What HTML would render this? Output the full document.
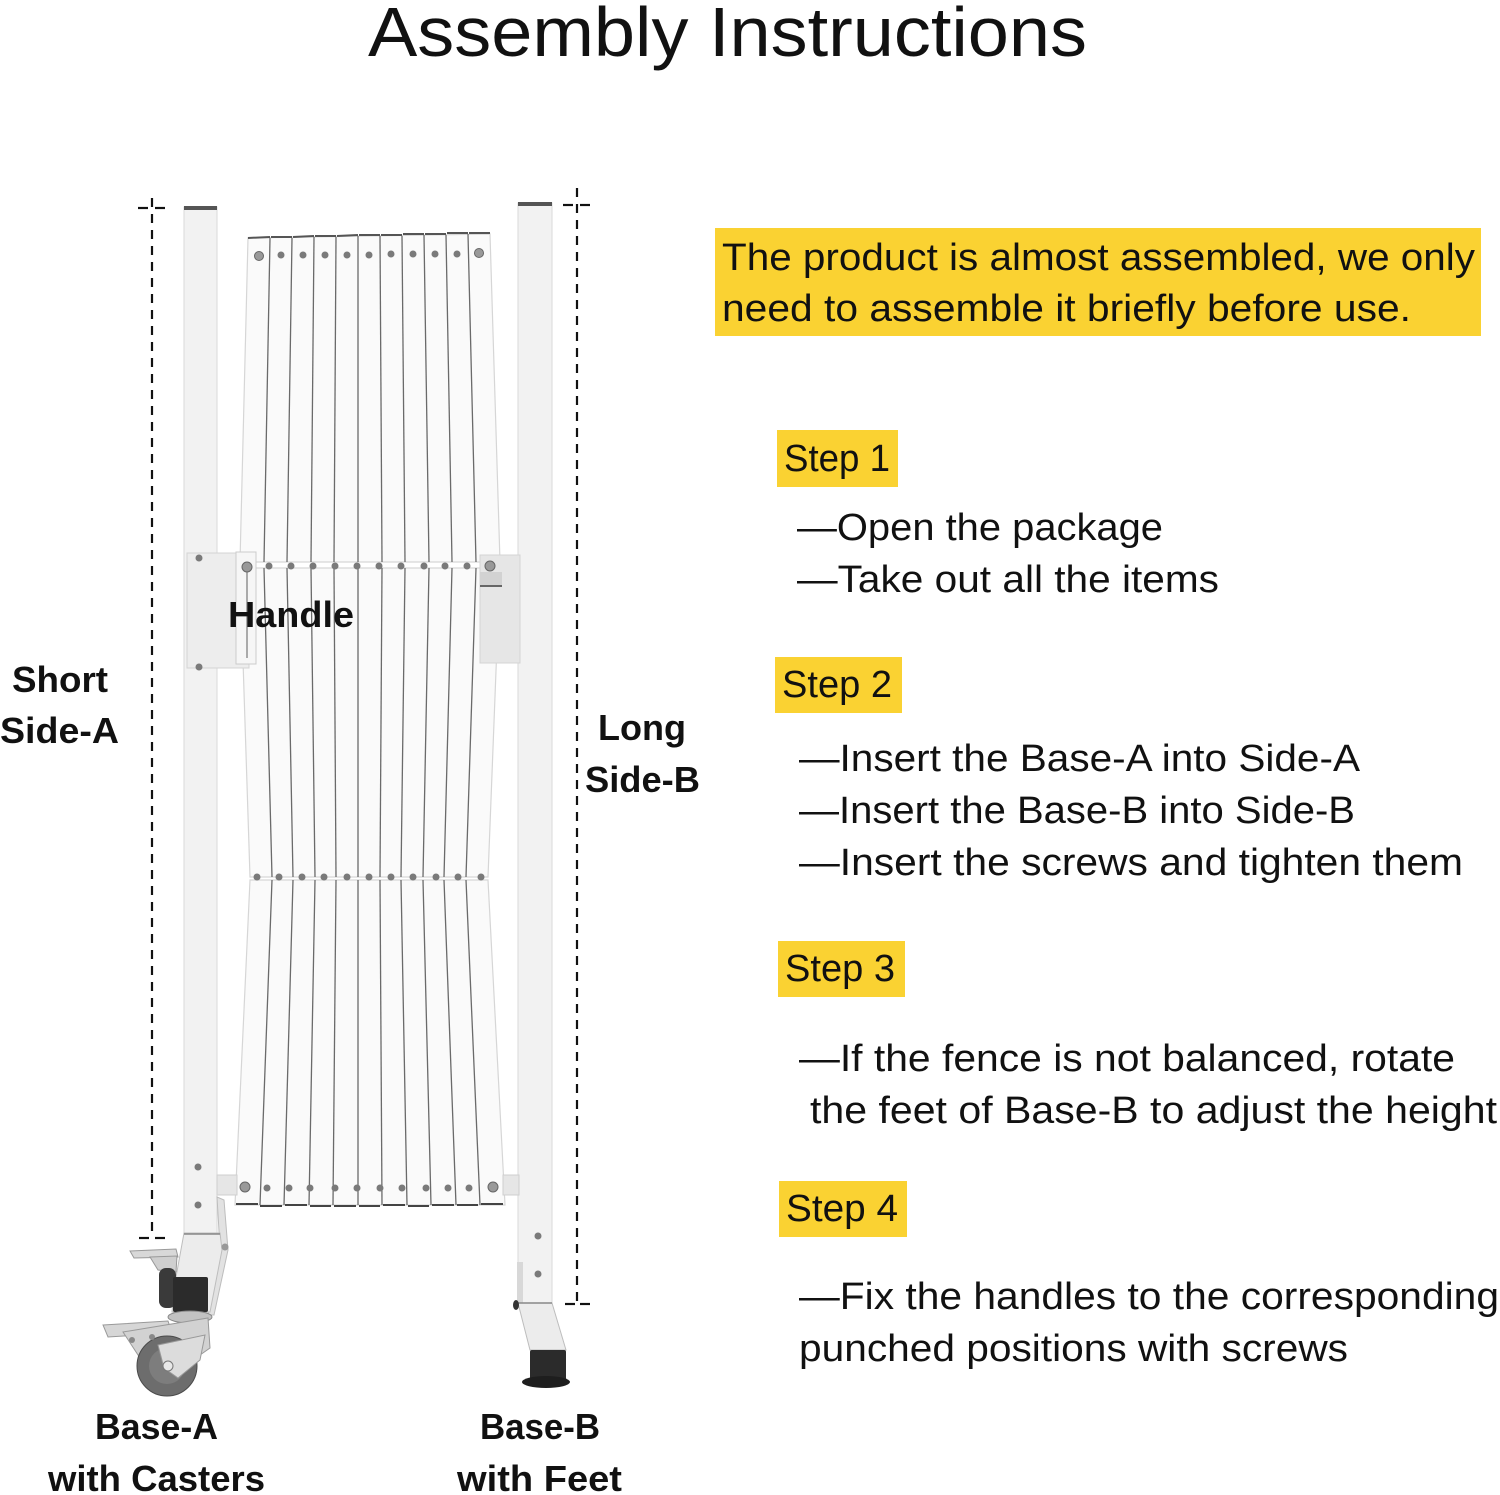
<!DOCTYPE html>
<html>
<head>
<meta charset="utf-8">
<style>
html,body{margin:0;padding:0;background:#fff;}
body{width:1500px;height:1495px;overflow:hidden;}
svg{display:block;}
text{font-family:"Liberation Sans","DejaVu Sans",sans-serif;fill:#111;}
.b{font-size:38px;}
.l{font-size:36px;font-weight:bold;}
</style>
</head>
<body>
<svg width="1500" height="1495" viewBox="0 0 1500 1495" xmlns="http://www.w3.org/2000/svg">
<rect x="0" y="0" width="1500" height="1495" fill="#fff"/>

<!-- Title -->
<text x="368" y="56" font-size="70" textLength="719" lengthAdjust="spacingAndGlyphs">Assembly Instructions</text>

<!-- Yellow intro box -->
<rect x="715" y="228" width="766" height="108" fill="#FAD232"/>
<text class="b" x="722" y="270" textLength="753" lengthAdjust="spacingAndGlyphs">The product is almost assembled, we only</text>
<text class="b" x="722" y="321" textLength="689" lengthAdjust="spacingAndGlyphs">need to assemble it briefly before use.</text>

<!-- Step 1 -->
<rect x="777" y="430" width="121" height="57" fill="#FAD232"/>
<text class="b" x="784" y="471" textLength="106" lengthAdjust="spacingAndGlyphs">Step 1</text>
<text class="b" x="797" y="540" textLength="366" lengthAdjust="spacingAndGlyphs">—Open the package</text>
<text class="b" x="797" y="592" textLength="422" lengthAdjust="spacingAndGlyphs">—Take out all the items</text>

<!-- Step 2 -->
<rect x="775" y="657" width="127" height="56" fill="#FAD232"/>
<text class="b" x="782" y="697" textLength="110" lengthAdjust="spacingAndGlyphs">Step 2</text>
<text class="b" x="799" y="771" textLength="561" lengthAdjust="spacingAndGlyphs">—Insert the Base-A into Side-A</text>
<text class="b" x="799" y="823" textLength="556" lengthAdjust="spacingAndGlyphs">—Insert the Base-B into Side-B</text>
<text class="b" x="799" y="875" textLength="664" lengthAdjust="spacingAndGlyphs">—Insert the screws and tighten them</text>

<!-- Step 3 -->
<rect x="778" y="941" width="127" height="56" fill="#FAD232"/>
<text class="b" x="785" y="981" textLength="110" lengthAdjust="spacingAndGlyphs">Step 3</text>
<text class="b" x="799" y="1071" textLength="656" lengthAdjust="spacingAndGlyphs">—If the fence is not balanced, rotate</text>
<text class="b" x="810" y="1123" textLength="687" lengthAdjust="spacingAndGlyphs">the feet of Base-B to adjust the height</text>

<!-- Step 4 -->
<rect x="779" y="1181" width="128" height="56" fill="#FAD232"/>
<text class="b" x="786" y="1221" textLength="112" lengthAdjust="spacingAndGlyphs">Step 4</text>
<text class="b" x="799" y="1309" textLength="700" lengthAdjust="spacingAndGlyphs">—Fix the handles to the corresponding</text>
<text class="b" x="799" y="1361" textLength="549" lengthAdjust="spacingAndGlyphs">punched positions with screws</text>

<!-- ===== GATE DRAWING ===== -->
<!-- Posts -->
<rect x="184" y="207" width="33" height="1026" fill="#f2f2f2" stroke="#dadada" stroke-width="1"/>
<rect x="184" y="206" width="33" height="4" fill="#555"/>
<rect x="518" y="203" width="34" height="1100" fill="#f2f2f2" stroke="#dadada" stroke-width="1"/>
<rect x="518" y="202" width="34" height="4" fill="#555"/>

<!-- Slats section 1 -->
<polygon points="248,238 490,234 500,562 240,562" fill="#fafafa" stroke="#d6d6d6" stroke-width="1.2"/>
<g stroke="#6a6a6a" stroke-width="1.3" fill="none">
<line x1="270" y1="238" x2="264" y2="562"/>
<line x1="292" y1="238" x2="287" y2="562"/>
<line x1="314" y1="237" x2="311" y2="562"/>
<line x1="336" y1="237" x2="334" y2="562"/>
<line x1="358" y1="236" x2="358" y2="562"/>
<line x1="380" y1="236" x2="382" y2="562"/>
<line x1="402" y1="236" x2="405" y2="562"/>
<line x1="424" y1="235" x2="429" y2="562"/>
<line x1="446" y1="235" x2="452" y2="562"/>
<line x1="468" y1="234" x2="476" y2="562"/>
</g>
<g stroke="#555" stroke-width="2">
<line x1="248" y1="238" x2="270" y2="237"/><line x1="271" y1="237" x2="292" y2="237"/>
<line x1="293" y1="237" x2="314" y2="236"/><line x1="315" y1="236" x2="336" y2="236"/>
<line x1="337" y1="236" x2="358" y2="235"/><line x1="359" y1="235" x2="380" y2="235"/>
<line x1="381" y1="235" x2="402" y2="235"/><line x1="403" y1="234" x2="424" y2="234"/>
<line x1="425" y1="234" x2="446" y2="234"/><line x1="447" y1="233" x2="468" y2="233"/>
<line x1="469" y1="233" x2="490" y2="233"/>
</g>

<!-- Slats section 2 -->
<polygon points="240,568 500,568 488,877 250,877" fill="#fafafa" stroke="#d6d6d6" stroke-width="1.2"/>
<g stroke="#6a6a6a" stroke-width="1.3" fill="none">
<line x1="264" y1="568" x2="272" y2="877"/>
<line x1="287" y1="568" x2="293" y2="877"/>
<line x1="311" y1="568" x2="315" y2="877"/>
<line x1="334" y1="568" x2="336" y2="877"/>
<line x1="358" y1="568" x2="358" y2="877"/>
<line x1="382" y1="568" x2="380" y2="877"/>
<line x1="405" y1="568" x2="401" y2="877"/>
<line x1="429" y1="568" x2="423" y2="877"/>
<line x1="452" y1="568" x2="444" y2="877"/>
<line x1="476" y1="568" x2="466" y2="877"/>
</g>

<!-- Slats section 3 -->
<polygon points="250,880 488,880 505,1205 235,1205" fill="#fafafa" stroke="#d6d6d6" stroke-width="1.2"/>
<g stroke="#6a6a6a" stroke-width="1.3" fill="none">
<line x1="272" y1="880" x2="260" y2="1205"/>
<line x1="293" y1="880" x2="284" y2="1205"/>
<line x1="315" y1="880" x2="309" y2="1205"/>
<line x1="336" y1="880" x2="333" y2="1205"/>
<line x1="358" y1="880" x2="358" y2="1205"/>
<line x1="380" y1="880" x2="382" y2="1205"/>
<line x1="401" y1="880" x2="407" y2="1205"/>
<line x1="423" y1="880" x2="431" y2="1205"/>
<line x1="444" y1="880" x2="456" y2="1205"/>
<line x1="466" y1="880" x2="480" y2="1205"/>
</g>
<g stroke="#444" stroke-width="2">
<line x1="236" y1="1204" x2="258" y2="1204"/><line x1="260" y1="1206" x2="282" y2="1206"/>
<line x1="285" y1="1205" x2="307" y2="1205"/><line x1="310" y1="1206" x2="331" y2="1206"/>
<line x1="334" y1="1206" x2="356" y2="1206"/><line x1="359" y1="1206" x2="380" y2="1206"/>
<line x1="383" y1="1205" x2="405" y2="1205"/><line x1="408" y1="1206" x2="429" y2="1206"/>
<line x1="432" y1="1205" x2="454" y2="1205"/><line x1="457" y1="1205" x2="478" y2="1205"/>
<line x1="481" y1="1204" x2="503" y2="1204"/>
</g>

<!-- Bottom connectors -->
<rect x="217" y="1175" width="20" height="20" fill="#e6e6e6" stroke="#cfcfcf"/>
<rect x="503" y="1175" width="16" height="20" fill="#e6e6e6" stroke="#cfcfcf"/>

<!-- Handles -->
<rect x="187" y="553" width="62" height="115" fill="#ededed" stroke="#d4d4d4"/>
<rect x="236" y="552" width="20" height="112" fill="#f6f6f6" stroke="#cccccc"/>
<line x1="247" y1="572" x2="247" y2="658" stroke="#aaa" stroke-width="2"/>
<rect x="480" y="555" width="40" height="108" fill="#e6e6e6" stroke="#d4d4d4"/>
<rect x="480" y="572" width="22" height="14" fill="#d2d2d2"/>
<line x1="480" y1="586" x2="502" y2="586" stroke="#666" stroke-width="2"/>

<!-- Screws -->
<g fill="#7a7a7a">
<circle cx="259" cy="256" r="4.5" fill="#999" stroke="#666"/>
<circle cx="281" cy="255" r="3.5"/><circle cx="303" cy="255" r="3.5"/><circle cx="325" cy="255" r="3.5"/>
<circle cx="347" cy="255" r="3.5"/><circle cx="369" cy="255" r="3.5"/><circle cx="391" cy="254" r="3.5"/>
<circle cx="413" cy="254" r="3.5"/><circle cx="435" cy="254" r="3.5"/><circle cx="457" cy="254" r="3.5"/>
<circle cx="479" cy="253" r="4.5" fill="#999" stroke="#666"/>
<circle cx="247" cy="567" r="5" fill="#999" stroke="#666"/>
<circle cx="269" cy="566" r="3.5"/><circle cx="291" cy="566" r="3.5"/><circle cx="313" cy="566" r="3.5"/>
<circle cx="335" cy="566" r="3.5"/><circle cx="357" cy="566" r="3.5"/><circle cx="379" cy="566" r="3.5"/>
<circle cx="401" cy="566" r="3.5"/><circle cx="424" cy="566" r="3.5"/><circle cx="445" cy="566" r="3.5"/>
<circle cx="467" cy="566" r="3.5"/>
<circle cx="490" cy="566" r="5" fill="#999" stroke="#666"/>
<circle cx="257" cy="877" r="3.5"/><circle cx="279" cy="877" r="3.5"/><circle cx="302" cy="877" r="3.5"/>
<circle cx="324" cy="877" r="3.5"/><circle cx="347" cy="877" r="3.5"/><circle cx="369" cy="877" r="3.5"/>
<circle cx="391" cy="877" r="3.5"/><circle cx="413" cy="877" r="3.5"/><circle cx="436" cy="877" r="3.5"/>
<circle cx="458" cy="877" r="3.5"/><circle cx="481" cy="877" r="3.5"/>
<circle cx="245" cy="1187" r="5" fill="#999" stroke="#666"/>
<circle cx="267" cy="1188" r="3.5"/><circle cx="289" cy="1188" r="3.5"/><circle cx="310" cy="1188" r="3.5"/>
<circle cx="335" cy="1188" r="3.5"/><circle cx="357" cy="1188" r="3.5"/><circle cx="380" cy="1188" r="3.5"/>
<circle cx="402" cy="1188" r="3.5"/><circle cx="426" cy="1188" r="3.5"/><circle cx="448" cy="1188" r="3.5"/>
<circle cx="469" cy="1188" r="3.5"/>
<circle cx="493" cy="1187" r="5" fill="#999" stroke="#666"/>
<circle cx="199" cy="558" r="3.5"/><circle cx="199" cy="667" r="3.5"/>
<circle cx="198" cy="1167" r="3.5"/><circle cx="198" cy="1205" r="3.5"/>
<circle cx="538" cy="1236" r="3.5"/><circle cx="538" cy="1274" r="3.5"/>
</g>

<!-- Base-A -->
<polygon points="217,1197 224,1200 228,1250 214,1315 208,1315 220,1248" fill="#e2e2e2" stroke="#bdbdbd"/>
<polygon points="184,1233 220,1233 222,1250 210,1312 172,1312 176,1277" fill="#ececec" stroke="#bdbdbd"/>
<line x1="184" y1="1234" x2="220" y2="1234" stroke="#888" stroke-width="1.5"/>
<circle cx="225" cy="1247" r="3.5" fill="#999"/>
<polygon points="130,1251 176,1249 178,1257 134,1258" fill="#d8d8d8" stroke="#999"/>
<polygon points="150,1257 177,1256 176,1272 158,1270" fill="#cfcfcf" stroke="#999"/>
<rect x="159" y="1268" width="17" height="40" rx="7" fill="#3a3a3a"/>
<rect x="173" y="1277" width="35" height="35" rx="2" fill="#2b2b2b"/>
<ellipse cx="190" cy="1317" rx="22" ry="6" fill="#c2c2c2" stroke="#888"/>
<polygon points="103,1325 168,1321 172,1333 108,1337" fill="#d6d6d6" stroke="#999"/>
<polygon points="123,1332 208,1318 210,1348 190,1362 140,1358" fill="#d2d2d2" stroke="#999"/>
<circle cx="167" cy="1366" r="30" fill="#6d6d6d" stroke="#4a4a4a"/>
<circle cx="167" cy="1366" r="18" fill="#7d7d7d"/>
<polygon points="158,1345 205,1335 200,1360 178,1378 164,1368" fill="#dcdcdc" stroke="#999"/>
<circle cx="168" cy="1366" r="5" fill="#e8e8e8" stroke="#777"/>
<circle cx="132" cy="1340" r="3" fill="#888"/><circle cx="152" cy="1337" r="3" fill="#888"/>

<!-- Base-B -->
<polygon points="517,1262 523,1262 523,1305 517,1305" fill="#d8d8d8"/>
<polygon points="518,1303 552,1303 566,1350 530,1350" fill="#ececec" stroke="#bdbdbd"/>
<line x1="518" y1="1303" x2="552" y2="1303" stroke="#888" stroke-width="1.5"/>
<ellipse cx="516" cy="1305" rx="3" ry="5" fill="#333"/>
<rect x="530" y="1350" width="36" height="32" rx="2" fill="#2b2b2b"/>
<ellipse cx="546" cy="1382" rx="24" ry="6" fill="#1e1e1e"/>

<!-- Dashed dimension lines -->
<g stroke="#111" stroke-width="2.2" fill="none">
<line x1="152" y1="198" x2="152" y2="1236" stroke-dasharray="9 7"/>
<line x1="138" y1="208" x2="148" y2="208"/><line x1="155" y1="208" x2="165" y2="208"/>
<line x1="139" y1="1238" x2="149" y2="1238"/><line x1="155" y1="1238" x2="165" y2="1238"/>
<line x1="577" y1="188" x2="577" y2="1302" stroke-dasharray="9 7"/>
<line x1="563" y1="205" x2="573" y2="205"/><line x1="580" y1="205" x2="590" y2="205"/>
<line x1="565" y1="1304" x2="575" y2="1304"/><line x1="580" y1="1304" x2="590" y2="1304"/>
</g>

<!-- Labels -->
<text class="l" x="12" y="692" textLength="96" lengthAdjust="spacingAndGlyphs">Short</text>
<text class="l" x="0" y="743" textLength="119" lengthAdjust="spacingAndGlyphs">Side-A</text>
<text class="l" x="228" y="627" textLength="126" lengthAdjust="spacingAndGlyphs">Handle</text>
<text class="l" x="598" y="740" textLength="88" lengthAdjust="spacingAndGlyphs">Long</text>
<text class="l" x="585" y="792" textLength="115" lengthAdjust="spacingAndGlyphs">Side-B</text>
<text class="l" x="95" y="1439" textLength="123" lengthAdjust="spacingAndGlyphs">Base-A</text>
<text class="l" x="48" y="1491" textLength="217" lengthAdjust="spacingAndGlyphs">with Casters</text>
<text class="l" x="480" y="1439" textLength="120" lengthAdjust="spacingAndGlyphs">Base-B</text>
<text class="l" x="457" y="1491" textLength="165" lengthAdjust="spacingAndGlyphs">with Feet</text>
</svg>
</body>
</html>
